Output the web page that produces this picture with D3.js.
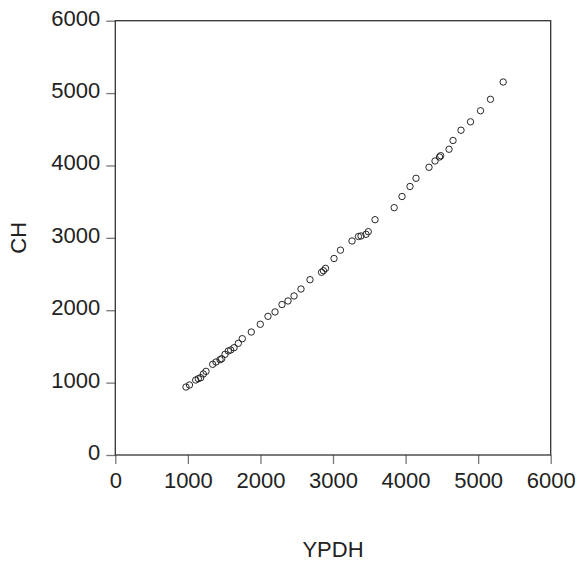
<!DOCTYPE html>
<html>
<head>
<meta charset="utf-8">
<script src="https://cdn.jsdelivr.net/npm/d3@7"></script>
<style>
  body { margin: 0; background: #fff; }
  text { font-family: "Liberation Sans", Arial, sans-serif; }
</style>
</head>
<body>
<svg id="chart" width="579" height="562"></svg>
<script>
// YPDH (x) vs CH (y)
const ypdh = [974, 1022, 1108, 1144, 1177, 1213, 1250, 1342, 1388, 1443, 1466, 1512, 1557, 1590, 1636,
  1695, 1750, 1874, 1998, 2104, 2201, 2297, 2380, 2463, 2559, 2683, 2842, 2869, 2897, 3014, 3103,
  3262, 3351, 3386, 3455, 3486, 3579, 3843, 3951, 4061, 4144, 4323, 4406, 4468, 4484, 4599, 4654,
  4764, 4895, 5033, 5170, 5345];
const ch = [939, 967, 1036, 1054, 1068, 1119, 1156, 1253, 1285, 1317, 1330, 1391, 1437, 1451, 1482,
  1543, 1607, 1699, 1806, 1916, 1976, 2079, 2128, 2197, 2293, 2422, 2524, 2546, 2579, 2715, 2830,
  2957, 3019, 3026, 3049, 3085, 3251, 3417, 3571, 3710, 3823, 3975, 4062, 4117, 4135, 4224, 4345,
  4487, 4603, 4756, 4914, 5153];
const xTicks = [0, 1000, 2000, 3000, 4000, 5000, 6000];
const yTicks = [0, 1000, 2000, 3000, 4000, 5000, 6000];

const data = ypdh.map((v, i) => ({ x: v, y: ch[i] }));

const svg = d3.select("#chart");
const margin = { left: 115.3, right: 550.7, top: 20.7, bottom: 455 };

const x = d3.scaleLinear().domain([0, 6000]).range([margin.left, margin.right]);
const y = d3.scaleLinear().domain([0, 6000]).range([margin.bottom, margin.top]);

// x axis
const gx = svg.append("g")
    .attr("transform", `translate(0,${margin.bottom})`)
    .call(d3.axisBottom(x).tickValues(xTicks).tickSize(9).tickPadding(8).tickFormat(d3.format("d")));
gx.select(".domain").remove();
gx.selectAll("line").attr("stroke", "#777").attr("stroke-width", 1.3);
gx.selectAll("text").attr("font-size", 22).attr("fill", "#222")
    .attr("font-family", "Liberation Sans, Arial, sans-serif");

// y axis
const gy = svg.append("g")
    .attr("transform", `translate(${margin.left},0)`)
    .call(d3.axisLeft(y).tickValues(yTicks).tickSize(9).tickPadding(6).tickFormat(d3.format("d")));
gy.select(".domain").remove();
gy.selectAll("line").attr("stroke", "#777").attr("stroke-width", 1.3);
gy.selectAll("text").attr("font-size", 22).attr("fill", "#222")
    .attr("dy", "0.2em")
    .attr("font-family", "Liberation Sans, Arial, sans-serif");

// frame
svg.append("rect")
    .attr("x", margin.left).attr("y", margin.top)
    .attr("width", margin.right - margin.left).attr("height", margin.bottom - margin.top)
    .attr("fill", "none").attr("stroke", "#333").attr("stroke-width", 1.3);

// points
svg.append("g").selectAll("circle")
    .data(data)
    .enter()
    .append("circle")
    .attr("cx", d => x(d.x))
    .attr("cy", d => y(d.y))
    .attr("r", 3.2)
    .attr("fill", "none")
    .attr("stroke", "#111")
    .attr("stroke-width", 0.9);

// axis titles
svg.append("text")
    .attr("x", (margin.left + margin.right) / 2)
    .attr("y", 557)
    .attr("text-anchor", "middle")
    .attr("font-size", 22)
    .attr("fill", "#222")
    .text("YPDH");

svg.append("text")
    .attr("transform", `translate(26,${(margin.top + margin.bottom) / 2}) rotate(-90)`)
    .attr("text-anchor", "middle")
    .attr("font-size", 22)
    .attr("fill", "#222")
    .text("CH");
</script>
</body>
</html>
